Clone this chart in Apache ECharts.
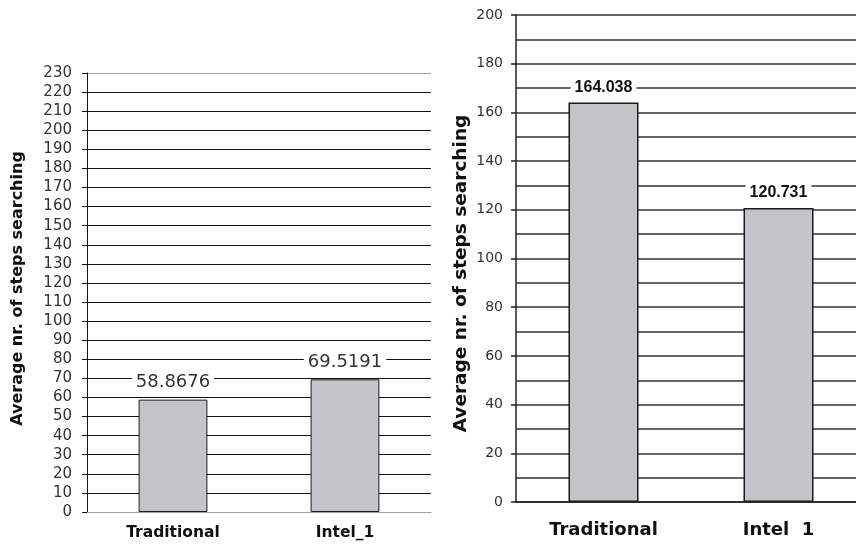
<!DOCTYPE html>
<html>
<head>
<meta charset="utf-8">
<script src="https://cdn.jsdelivr.net/npm/echarts@6/dist/echarts.min.js"></script>
<style>
  html, body { margin: 0; padding: 0; background: #fff; }
  #chart { width: 856px; height: 544px; }
</style>
</head>
<body>
<div id="chart"></div>
<script>
// Left panel: average search steps per method
const leftCategories = ['Traditional', 'Intel_1'];
const leftValues = [58.8676, 69.5191];
// Right panel: average search steps per method
const rightCategories = ['Traditional', 'Intel  1'];
const rightValues = [164.038, 120.731];

const axisTitle = 'Average nr. of steps searching';
const barFill = '#c4c3c8';
const barEdge = '#1a1a1a';

// Left grid lines: black inside, light grey on the outer edges (0 and 230)
const leftLineCount = 24;
const leftLineColors = Array.from({ length: leftLineCount }, (_, i) =>
  (i === 0 || i === leftLineCount - 1) ? '#a0a0a0' : '#111');

const chart = echarts.init(document.getElementById('chart'), null, { renderer: 'canvas' });

chart.setOption({
  backgroundColor: '#ffffff',
  animation: false,
  grid: [
    { left: 87, top: 73, width: 344, height: 439, outerBoundsMode: 'none' },
    { left: 516, top: 15, width: 350, height: 487, outerBoundsMode: 'none' }
  ],
  xAxis: [
    {
      gridIndex: 0, type: 'category', data: leftCategories,
      axisLine: { show: true, lineStyle: { color: '#a0a0a0', width: 1 } },
      axisTick: { show: false },
      axisLabel: { margin: 13, color: '#111', fontFamily: 'DejaVu Sans', fontWeight: 'bold', fontSize: 15.5 }
    },
    {
      gridIndex: 1, type: 'category', data: rightCategories,
      axisLine: { show: true, lineStyle: { color: '#222', width: 1.5 } },
      axisTick: { show: false },
      axisLabel: { margin: 19, color: '#111', fontFamily: 'DejaVu Sans', fontWeight: 'bold', fontSize: 18 }
    }
  ],
  yAxis: [
    {
      gridIndex: 0, type: 'value', min: 0, max: 230, interval: 10,
      name: axisTitle, nameLocation: 'middle', nameGap: 61,
      nameTextStyle: { color: '#111', fontFamily: 'DejaVu Sans', fontWeight: 'bold', fontSize: 16, padding: [0, 0, 0, 8] },
      axisLine: { show: true, lineStyle: { color: '#111', width: 1 } },
      axisTick: { show: true, length: 5, lineStyle: { color: '#111' } },
      axisLabel: { margin: 15, color: '#333', fontFamily: 'DejaVu Sans', fontSize: 15 },
      splitLine: { show: true, lineStyle: { color: leftLineColors, width: 1 } }
    },
    {
      gridIndex: 1, type: 'value', min: 0, max: 200, interval: 20,
      name: axisTitle, nameLocation: 'middle', nameGap: 45,
      nameTextStyle: { color: '#111', fontFamily: 'DejaVu Sans', fontWeight: 'bold', fontSize: 18.5, padding: [0, 30, 0, 0] },
      axisLine: { show: true, lineStyle: { color: '#222', width: 1.5 } },
      axisTick: { show: true, length: 5, lineStyle: { color: '#222', width: 1.5 } },
      axisLabel: { margin: 13, color: '#333', fontFamily: 'DejaVu Sans', fontSize: 14 },
      splitLine: { show: true, lineStyle: { color: '#333', width: 1.5 } },
      minorTick: { show: false, splitNumber: 2 },
      minorSplitLine: { show: true, lineStyle: { color: '#333', width: 1.5 } }
    }
  ],
  series: [
    {
      type: 'bar', xAxisIndex: 0, yAxisIndex: 0, data: leftValues,
      barWidth: '40%',
      itemStyle: { color: barFill, borderColor: barEdge, borderWidth: 1 },
      label: {
        show: true, position: 'top', distance: 8,
        color: '#333', fontFamily: 'DejaVu Sans', fontSize: 18,
        backgroundColor: '#fff', padding: [0, 4],
        formatter: p => String(p.value)
      }
    },
    {
      type: 'bar', xAxisIndex: 1, yAxisIndex: 1, data: rightValues,
      barWidth: '40%',
      itemStyle: { color: barFill, borderColor: barEdge, borderWidth: 1.5 },
      label: {
        show: true, position: 'top', distance: 7,
        color: '#111', fontFamily: 'Liberation Sans', fontWeight: 'bold', fontSize: 16,
        backgroundColor: '#fff', padding: [0, 4],
        formatter: p => p.value.toFixed(3)
      }
    }
  ]
});
</script>
</body>
</html>
